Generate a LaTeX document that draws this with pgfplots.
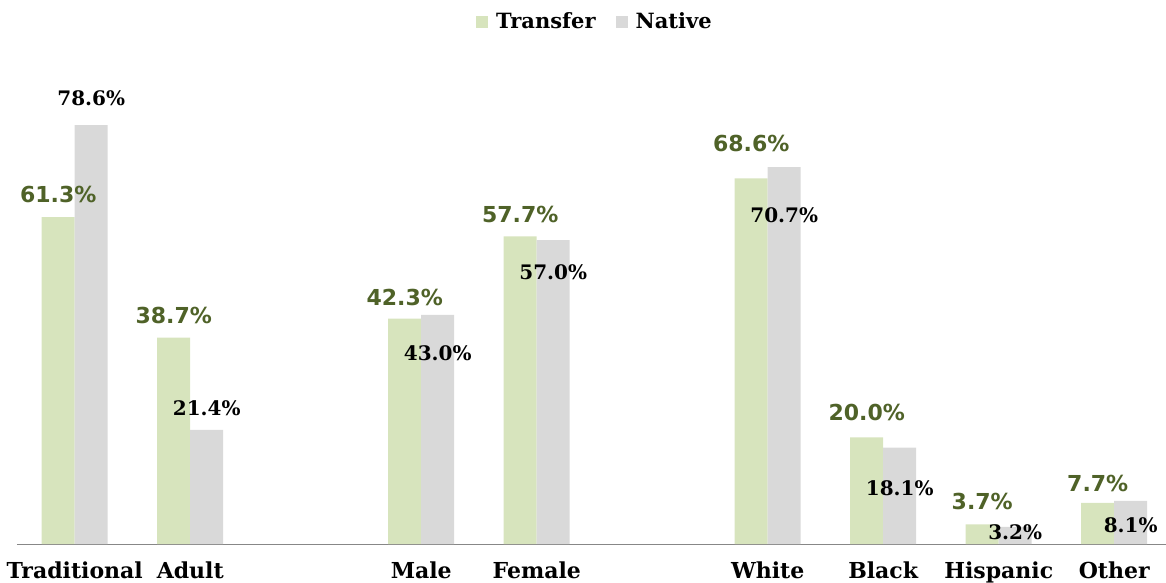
\documentclass[border=0pt]{standalone}
\usepackage{pgfplots}
\pgfplotsset{compat=1.18}
\usepackage{fontspec}
\setmainfont{DejaVu Serif}
\newfontfamily\slab{DejaVu Serif}
\newfontfamily\sansf{DejaVu Sans}
\definecolor{trans}{HTML}{D7E4BD}
\definecolor{nat}{HTML}{D9D9D9}
\definecolor{tlab}{HTML}{4F6228}
\definecolor{axl}{HTML}{878787}
\begin{document}
\begin{tikzpicture}
\begin{axis}[
  scale only axis,
  width=1149pt, height=544pt,
  xmin=-0.5, xmax=9.448,
  ymin=0, ymax=102.05,
  ybar=0pt, bar width=33pt,
  axis x line*=bottom,
  hide y axis,
  x axis line style={draw=axl, line width=1pt},
  xtick={0,1,3,4,6,7,8,9},
  xticklabels={Traditional,Adult,Male,Female,White,Black,Hispanic,Other},
  major tick length=0pt,
  xticklabel style={font=\slab\bfseries\fontsize{22}{24}\selectfont, anchor=base, yshift=-34pt},
  clip=false,
  legend style={at={(0.503,0.96)}, anchor=center, draw=none, fill=none,
    legend columns=2, font=\slab\bfseries\fontsize{21}{23}\selectfont,
    /tikz/every odd column/.append style={column sep=6pt},
    /tikz/every even column/.append style={column sep=18pt}},
  legend image code/.code={\fill[#1,draw=none] (0pt,-6pt) rectangle (12pt,6pt);},
]
\addplot[fill=trans, draw=none] coordinates {(0,61.3) (1,38.7) (3,42.3) (4,57.7) (6,68.6) (7,20.0) (8,3.7) (9,7.7)};
\addplot[fill=nat, draw=none] coordinates {(0,78.6) (1,21.4) (3,43.0) (4,57.0) (6,70.7) (7,18.1) (8,3.2) (9,8.1)};
\legend{Transfer,Native}
\tikzset{tl/.style={font=\sansf\bfseries\fontsize{22}{24}\selectfont, text=tlab, xshift=-16.5pt, inner sep=0pt},
         nl/.style={font=\slab\bfseries\fontsize{20}{22}\selectfont, text=black, xshift=16.5pt, inner sep=0pt}}
\node[tl] at (axis cs:0,65.5) {61.3\%};
\node[tl] at (axis cs:1,42.8) {38.7\%};
\node[tl] at (axis cs:3,46.3) {42.3\%};
\node[tl] at (axis cs:4,61.9) {57.7\%};
\node[tl] at (axis cs:6,75.2) {68.6\%};
\node[tl] at (axis cs:7,24.6) {20.0\%};
\node[tl] at (axis cs:8,7.9) {3.7\%};
\node[tl] at (axis cs:9,11.4) {7.7\%};
\node[nl] at (axis cs:0,83.7) {78.6\%};
\node[nl] at (axis cs:1,25.5) {21.4\%};
\node[nl] at (axis cs:3,35.8) {43.0\%};
\node[nl] at (axis cs:4,51.0) {57.0\%};
\node[nl] at (axis cs:6,61.7) {70.7\%};
\node[nl] at (axis cs:7,10.5) {18.1\%};
\node[nl] at (axis cs:8,2.25) {3.2\%};
\node[nl] at (axis cs:9,3.6) {8.1\%};
\end{axis}
\pgfresetboundingbox
\path (-17pt,-39pt) rectangle (1149pt,544pt);
\end{tikzpicture}
\end{document}
